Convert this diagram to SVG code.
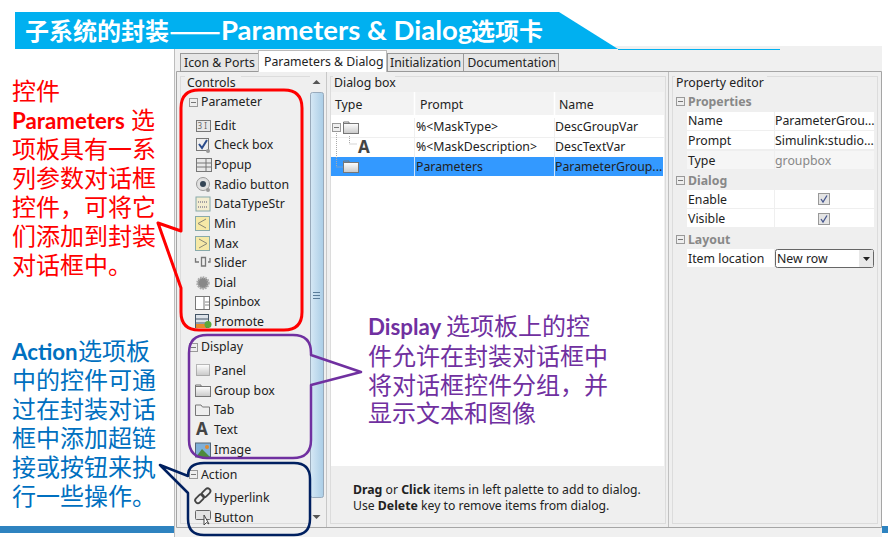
<svg xmlns="http://www.w3.org/2000/svg" width="888" height="537" viewBox="0 0 888 537">
<style>
text{font-family:"Noto Sans","Noto Sans CJK SC",sans-serif;font-size:12.3px;fill:#222}
.note{font-family:"Lato","Noto Sans CJK SC",sans-serif;font-size:24px}
.b{font-weight:700;font-size:22.300px}
.ui{font-weight:700;font-size:12.3px}
.red{fill:#f00}.blue{fill:#0070c0}.pur{fill:#7030a0}
.title{font-family:"Lato","Noto Sans CJK SC",sans-serif;font-size:24px;font-weight:700;fill:#fff}
.lat{font-size:27.500px}
.dash{font-family:"Noto Sans CJK SC",sans-serif}
.tab{fill:#e6e6e6;stroke:#999;stroke-width:1}
.grp{fill:none;stroke:#dcdcdc;stroke-width:1}
.wr{fill:#fff}
.hd{fill:#888;font-weight:700}
.mb{fill:#eee;stroke:#999;stroke-width:1}
.ic{fill:#e8e8e8;stroke:#777;stroke-width:1}
.cb{fill:none;stroke-linejoin:round}
</style>
<defs>
<g id="minus"><rect class="mb" x="0.5" y="0.5" width="8" height="8"/><path d="M2 4.500H7" stroke="#777"/></g>
<linearGradient id="sb" x1="0" x2="1" y1="0" y2="0"><stop offset="0" stop-color="#d6e8f5"/><stop offset="1" stop-color="#aacde6"/></linearGradient>
<linearGradient id="fold" x1="0" x2="0" y1="0" y2="1"><stop offset="0" stop-color="#fff"/><stop offset="1" stop-color="#c8c8c8"/></linearGradient>
<g id="folder"><rect x="0.5" y="2.500" width="15" height="10" fill="url(#fold)" stroke="#777"/><path d="M0.5 3V1H6V3" fill="none" stroke="#777"/></g>
<g id="chk"><rect x="0.5" y="0.5" width="11" height="11" fill="#e4e4e4" stroke="#999"/><path d="M3 6L5 9L9 2.500" fill="none" stroke="#46568c" stroke-width="1.300"/></g>
</defs>
<rect width="888" height="537" fill="#fff"/>
<g id="footer-bar"><rect x="0" y="526" width="174" height="7" fill="#2e83c0"/></g>
<g id="window">
<rect x="174" y="46" width="708" height="491" fill="#f0f0f0"/>
<rect x="882" y="526" width="6" height="7" fill="#2e83c0"/>
<path d="M174.500 46V537" stroke="#bdbdbd" fill="none"/>
<path d="M176.500 71.500H881.500V527.500H176.500Z" fill="#efefef" stroke="#a5a5a5"/>
</g>
<g id="tabs">
<rect class="tab" x="180.500" y="53.500" width="78" height="18"/>
<text x="184" y="67">Icon &amp; Ports</text>
<rect x="258.500" y="50.500" width="128" height="21" fill="#fff" stroke="#bbb"/>
<path d="M259 71.500H386" stroke="#fff"/>
<text x="264" y="65.500">Parameters &amp; Dialog</text>
<rect class="tab" x="387.500" y="53.500" width="76" height="18"/>
<text x="390" y="67">Initialization</text>
<rect class="tab" x="463.500" y="53.500" width="95" height="18"/>
<text x="467.500" y="67" style="font-size:12.100px">Documentation</text>
</g>
<g id="controls-panel">
<rect class="grp" x="180.500" y="76.500" width="143" height="447"/>
<rect x="185" y="76" width="56" height="12" fill="#efefef"/>
<text x="187" y="87">Controls</text>
<rect x="310" y="74" width="14" height="453" fill="#efefef"/>
<path d="M312.500 84L316.500 80L320.500 84Z M312.500 515L316.500 519L320.500 515Z" fill="#555"/>
<rect x="310.500" y="92.500" width="13" height="405" rx="2" fill="url(#sb)" stroke="#9ab"/>
<path d="M313 292.500H320M313 295.500H320M313 298.500H320" stroke="#5a7d9a"/>
<path d="M326.500 72V527" stroke="#c8c8c8"/>
</g>
<g id="parameter-items">
<use href="#minus" x="189" y="98"/>
<text x="201" y="106">Parameter</text>
<rect class="ic" x="196.500" y="120.500" width="14" height="11"/><text x="197.500" y="129" style="font-size:8px;fill:#666">3 I</text>
<text x="214" y="130">Edit</text>
<rect x="196.500" y="138.500" width="12" height="12" fill="#eee" stroke="#777"/><path d="M199 144L202 148L207 140" fill="none" stroke="#2b4c8c" stroke-width="2"/><circle cx="208" cy="151" r="2" fill="#999"/>
<text x="214" y="149">Check box</text>
<rect class="ic" x="196.500" y="158.500" width="15" height="13"/><path d="M197 163H211M197 167H211M206 159V171" stroke="#777"/>
<text x="214" y="169">Popup</text>
<circle cx="203" cy="184" r="6.500" fill="#e0e0e0" stroke="#999"/><circle cx="203" cy="184" r="3" fill="#345"/><circle cx="208" cy="190" r="2" fill="#999"/>
<text x="214" y="189">Radio button</text>
<rect x="196" y="197" width="14" height="14" fill="#f3ecd0" stroke="#8aa"/><path d="M198 202H208M198 207H208" stroke="#557" stroke-dasharray="1 1"/>
<text x="214" y="208">DataTypeStr</text>
<rect x="195.500" y="216.500" width="14" height="14" fill="#f6e9a6" stroke="#8aa"/><path d="M206 219L198 223.500L206 228" fill="none" stroke="#887"/>
<text x="214" y="228">Min</text>
<rect x="195.500" y="236.500" width="14" height="14" fill="#f6e9a6" stroke="#8aa"/><path d="M199 239L207 243.500L199 248" fill="none" stroke="#887"/>
<text x="214" y="248">Max</text>
<path d="M195.500 258V262H199M201.500 257.500V266H205.500V257.500ZM208 262H210V258" fill="none" stroke="#777" stroke-width="1.300"/>
<text x="214" y="267">Slider</text>
<circle cx="203" cy="283" r="5.500" fill="#888" stroke="#aaa" stroke-width="2.500" stroke-dasharray="1.500 1"/>
<text x="214" y="287">Dial</text>
<rect x="195.500" y="296.500" width="14" height="13" fill="#fff" stroke="#777"/><path d="M204 297V309" stroke="#777"/><path d="M205 302H209M205 305H209" stroke="#888"/>
<text x="214" y="306">Spinbox</text>
<rect x="195.500" y="314.500" width="13" height="13" fill="#dde3ea" stroke="#456"/><path d="M196 319H208M196 323H208" stroke="#456"/><rect x="196" y="324" width="10" height="4" fill="#e58a2e"/><circle cx="208" cy="324.500" r="3.500" fill="#5aa83c"/>
<text x="214" y="326">Promote</text>
</g>
<g id="display-items">
<use href="#minus" x="189" y="343"/>
<text x="201" y="351">Display</text>
<rect x="196.500" y="364.500" width="13" height="11" fill="url(#fold)" stroke="#777" stroke-dasharray="1 1"/>
<text x="214" y="375">Panel</text>
<use href="#folder" x="195" y="384"/>
<text x="214" y="395">Group box</text>
<path d="M195.500 405V415.500H209.500V407H202.500L201 405Z" fill="#eee" stroke="#777"/>
<text x="214" y="414">Tab</text>
<text x="196" y="435" style="font-size:17px;font-weight:700;fill:#444">A</text>
<text x="214" y="434">Text</text>
<rect x="195.500" y="443" width="15" height="14" fill="#7fb0d8" stroke="#567"/><path d="M196 457L202 449L210 457Z" fill="#4d8a3d"/><circle cx="207" cy="447" r="2" fill="#e08a30"/>
<text x="214" y="454">Image</text>
</g>
<g id="action-items">
<use href="#minus" x="189" y="470"/>
<text x="201" y="479">Action</text>
<g fill="none" stroke="#444" stroke-width="1.800"><rect x="194.500" y="496" width="10" height="5.500" rx="2.700" transform="rotate(-45 199.500 498.700)"/><rect x="201" y="490" width="10" height="5.500" rx="2.700" transform="rotate(-45 206 492.700)"/></g>
<text x="214" y="502">Hyperlink</text>
<rect x="195.500" y="510.500" width="15" height="9" rx="1" fill="#e2e2e2" stroke="#666"/><path d="M204 515V525L206.500 522.500L209 524Z" fill="#fff" stroke="#444"/>
<text x="214" y="522">Button</text>
</g>
<g id="dialog-box">
<rect class="grp" x="330.500" y="76.500" width="335" height="447"/>
<rect x="333" y="76" width="62" height="12" fill="#efefef"/>
<text x="334" y="87">Dialog box</text>
<rect x="331" y="92" width="333" height="374" fill="#fff"/>
<rect x="331" y="92" width="333" height="23" fill="#f3f3f3"/>
<path d="M414.500 92V115M554.500 92V115" stroke="#fff" stroke-width="1.500"/>
<text x="335" y="109">Type</text><text x="420" y="109">Prompt</text><text x="559" y="109">Name</text>
<path d="M331 137.500H664M414.500 118V176M554.500 118V176" stroke="#efefef"/>
<rect x="331" y="157" width="332" height="19" fill="#3399ff"/>
<path d="M414.500 157V176M554.500 157V176" stroke="#cfe3fb"/>
<path d="M336.500 133V167H344M349.500 136V144H357" fill="none" stroke="#aaa" stroke-dasharray="1 1"/>
<use href="#minus" x="332" y="123"/>
<use href="#folder" x="343" y="121"/>
<text x="358" y="153" style="font-size:17px;font-weight:700;fill:#444">A</text>
<use href="#folder" x="343" y="160"/>
<text x="416" y="131">%&lt;MaskType&gt;</text><text x="555" y="131">DescGroupVar</text>
<text x="416" y="151">%&lt;MaskDescription&gt;</text><text x="555" y="151">DescTextVar</text>
<text x="416" y="171">Parameters</text><text x="555" y="171">ParameterGroup...</text>
<text x="353" y="494" style="font-size:12.200px"><tspan class="ui">Drag</tspan> or <tspan class="ui">Click</tspan> items in left palette to add to dialog.</text>
<text x="353" y="510" style="font-size:12.200px">Use <tspan class="ui">Delete</tspan> key to remove items from dialog.</text>
</g>
<g id="property-editor">
<path d="M668.500 72V527" stroke="#c0c0c0"/>
<rect class="grp" x="672.500" y="76.500" width="205" height="447"/>
<rect x="675" y="76" width="92" height="12" fill="#efefef"/>
<text x="676" y="87">Property editor</text>
<use href="#minus" x="676" y="97"/><text class="hd" x="688" y="106">Properties</text>
<rect class="wr" x="687" y="112" width="87" height="18"/><rect class="wr" x="775" y="112" width="99" height="18"/>
<rect class="wr" x="687" y="131" width="87" height="18"/><rect class="wr" x="775" y="131" width="99" height="18"/>
<rect x="687" y="151" width="87" height="18" fill="#f6f6f6"/><rect x="775" y="151" width="99" height="18" fill="#f6f6f6"/>
<text x="688" y="125">Name</text><text x="775" y="125">ParameterGrou...</text>
<text x="688" y="145">Prompt</text><text x="775" y="145">Simulink:studio...</text>
<text x="688" y="165">Type</text><text x="775" y="165" style="fill:#888">groupbox</text>
<use href="#minus" x="676" y="176"/><text class="hd" x="688" y="185">Dialog</text>
<rect class="wr" x="687" y="190" width="87" height="18"/><rect class="wr" x="775" y="190" width="99" height="18"/>
<rect class="wr" x="687" y="209" width="87" height="18"/><rect class="wr" x="775" y="209" width="99" height="18"/>
<text x="688" y="204">Enable</text><text x="688" y="223">Visible</text>
<use href="#chk" x="818" y="193"/><use href="#chk" x="818" y="213"/>
<use href="#minus" x="676" y="235"/><text class="hd" x="688" y="244">Layout</text>
<rect class="wr" x="687" y="249" width="87" height="18"/>
<rect x="775.500" y="249.500" width="98" height="18" rx="2" fill="#fff" stroke="#666"/>
<rect x="859" y="250" width="14" height="17" fill="#e8e8e8"/>
<path d="M863 257H870L866.500 261Z" fill="#222"/>
<text x="688" y="263">Item location</text><text x="777" y="263">New row</text>
</g>
<g id="title-banner">
<polygon points="15,12 559,12 618,49 15,49" fill="#00b0f0"/>
<path d="M618 49.500H780" stroke="#00b0f0" fill="none"/>
<text class="title" x="25" y="40">子系统的封装<tspan class="dash" x="169" textLength="52" lengthAdjust="spacingAndGlyphs">——</tspan><tspan class="lat" x="221">Parameters &amp; Dialog</tspan><tspan x="471">选项卡</tspan></text>
</g>
<g id="parameters-note">
<text class="note red" x="12" y="100">控件</text>
<text class="note red" x="12" y="129"><tspan class="b">Parameters</tspan><tspan x="131">选</tspan></text>
<text class="note red" x="12" y="158">项板具有一系</text>
<text class="note red" x="12" y="187">列参数对话框</text>
<text class="note red" x="12" y="216">控件，可将它</text>
<text class="note red" x="12" y="245">们添加到封装</text>
<text class="note red" x="12" y="274">对话框中。</text>
</g>
<g id="action-note">
<text class="note blue" x="12" y="360"><tspan class="b">Action</tspan><tspan x="78">选项板</tspan></text>
<text class="note blue" x="12" y="389">中的控件可通</text>
<text class="note blue" x="12" y="418">过在封装对话</text>
<text class="note blue" x="12" y="447">框中添加超链</text>
<text class="note blue" x="12" y="476">接或按钮来执</text>
<text class="note blue" x="12" y="505">行一些操作。</text>
</g>
<g id="display-note">
<text class="note pur" x="368" y="335"><tspan class="b">Display</tspan><tspan x="446">选项板上的控</tspan></text>
<text class="note pur" x="368" y="365">件允许在封装对话框中</text>
<text class="note pur" x="368" y="394">将对话框控件分组，并</text>
<text class="note pur" x="368" y="422">显示文本和图像</text>
</g>
<g id="connectors">
<path class="cb" d="M199 90H284Q302 90 302 108V312Q302 330 284 330H199Q181 330 181 312V288L158 223L181 231V108Q181 90 199 90Z" stroke="#f00" stroke-width="3"/>
<path class="cb" d="M207 335H293Q311 335 311 353V355L361 372L311 385V440Q311 458 293 458H207Q189 458 189 440V353Q189 335 207 335Z" stroke="#7030a0" stroke-width="2.500"/>
<path class="cb" d="M204 463H294Q310 463 310 479V519Q310 535 294 535H204Q188 535 188 519V493L160 465L188 476Q188 463 204 463Z" stroke="#002060" stroke-width="2.500"/>
</g>
</svg>
